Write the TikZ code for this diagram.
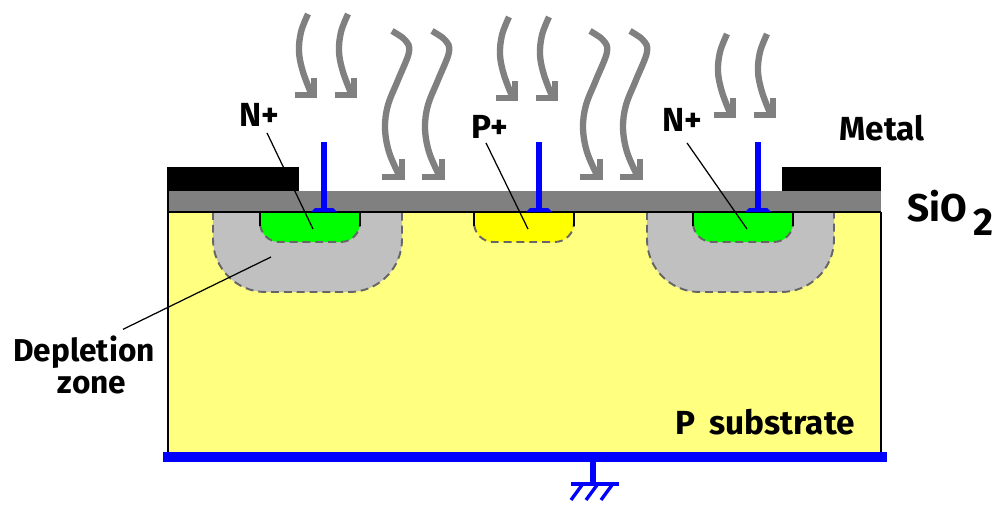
\documentclass[tikz,border=0pt]{standalone}
\usepackage{fontspec}
\setmainfont{Fira Sans}
\definecolor{substrate}{HTML}{FFFF80}
\definecolor{oxide}{HTML}{808080}
\definecolor{depletion}{HTML}{C0C0C0}
\definecolor{nplus}{HTML}{00FF00}
\definecolor{pplus}{HTML}{FFFF00}
\tikzset{
	tag/.style={font=\bfseries\fontsize{19}{19}\selectfont,inner sep=0pt},
	leader/.style={draw=black,line width=0.7pt},
	wave/.style={draw=oxide,line width=3.6pt},
	contact/.style={draw=blue,line width=3.4pt},
	zone/.style={draw=black!60,line width=1.1pt,dash pattern=on 4.5pt off 2.8pt,rounded corners=#1}
}
\begin{document}
\begin{tikzpicture}[x=0.02cm,y=-0.02cm]
	\useasboundingbox (0,0) rectangle (1000,514);

	\fill[substrate] (168,212) rectangle (881,455);
	\draw[black,line width=0.9pt] (168,191) -- (168,455);
	\draw[black,line width=0.9pt] (881,212) -- (881,455);

	\foreach \x/\w in {213/189,647/187}
		\draw[zone=30,fill=depletion] (\x,212) -- (\x,292) -- (\x+\w,292) -- (\x+\w,212);
	\foreach \x/\c in {260/nplus,474/pplus,693/nplus}{
		\draw[zone=11,fill=\c] (\x,212) -- (\x,242) -- (\x+100,242) -- (\x+100,212);
		\draw[black,line width=1pt] (\x,212) -- (\x,226);
		\draw[black,line width=1pt] (\x+100,212) -- (\x+100,226);
	}

	\fill[oxide] (169,191) rectangle (881,212);
	\draw[black,line width=0.9pt] (168,212) -- (881,212);
	\fill[black] (167,167) rectangle (299,191);
	\fill[black] (782,167) rectangle (881,191);

	% contacts
	\foreach \x in {324,539,758}{
		\draw[contact] (\x,142) -- (\x,211);
		\fill[blue] (\x-13,212) -- (\x-9,208) -- (\x+9,208) -- (\x+13,212) -- cycle;
	}

	% light
	\foreach \x/\y in {0/0,40/0,201/3,241/3,419/20,459/20}{
		\draw[wave] plot [smooth,tension=0.6] coordinates {(308+\x,14+\y) (301+\x,32+\y) (299+\x,52+\y) (303+\x,72+\y) (311+\x,93+\y)};
		\draw[wave,line join=miter] (295+\x,95+\y) -- (314+\x,95+\y) -- (314+\x,78+\y);
	}
	\foreach \x in {0,40,198,238}{
		\draw[wave] plot [smooth,tension=0.6] coordinates {(392+\x,31) (405+\x,40) (409+\x,52) (398+\x,80) (388+\x,105) (385+\x,128) (389+\x,152) (399+\x,175)};
		\draw[wave,line join=miter] (382+\x,177) -- (402+\x,177) -- (402+\x,159);
	}

	% labels
	\node[tag] (lblNleft) at (259,115) {N+};
	\node[tag] (lblP) at (490,127) {P+};
	\node[tag] (lblNright) at (682,120) {N+};
	\node[tag] (lblMetal) at (882,128) {Metal};
	\node[tag,anchor=base west,font=\bfseries\fontsize{22}{22}\selectfont] (lblOxide) at (907,221) {SiO\raisebox{-8pt}{\,2}};
	\node[tag,font=\bfseries\fontsize{18}{18}\selectfont] (lblDepletion) at (84,352) {Depletion};
	\node[tag,font=\bfseries\fontsize{18}{18}\selectfont] (lblZone) at (92,385) {zone};
	\node[tag] (lblSubstrate) at (765,422) {P\hspace{8pt}substrate};

	\coordinate (tipNleft) at (313,229);
	\coordinate (tipP) at (528,229);
	\coordinate (tipNright) at (747,229);
	\coordinate (tipDepletion) at (271,257);
	\draw[leader] ([shift={(8,6)}]lblNleft.south) -- (tipNleft);
	\draw[leader] ([shift={(-4,4)}]lblP.south) -- (tipP);
	\draw[leader] ([shift={(5,11)}]lblNright.south) -- (tipNright);
	\draw[leader] ([shift={(39,-6)}]lblDepletion.north) -- (tipDepletion);

	% ground
	\coordinate (gnd) at (593,482);
	\draw[blue,line width=5.7pt] (163,457) -- (887,457);
	\draw[blue,line width=3.2pt] (593,460) -- (gnd);
	\draw[blue,line width=2.2pt] (571,484) -- (619,484);
	\foreach \x in {571,586,601}
		\draw[blue,line width=1.9pt] (\x,500) -- (\x+11,485);
\end{tikzpicture}
\end{document}
